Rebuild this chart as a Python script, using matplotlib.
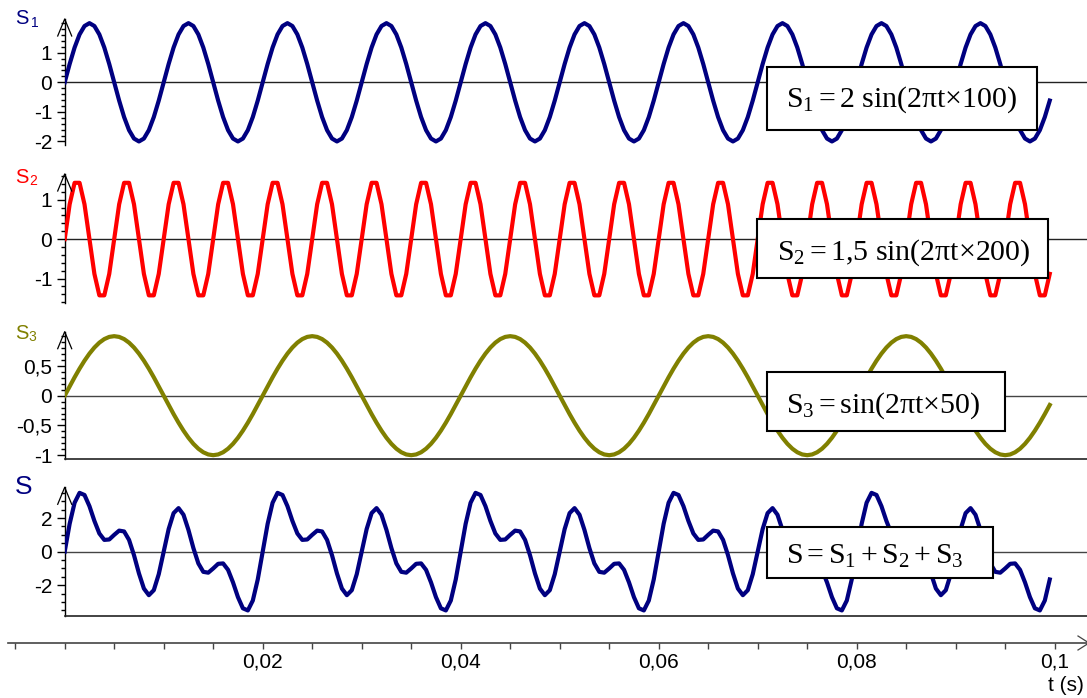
import numpy as np
import matplotlib
matplotlib.use("Agg")
import matplotlib.pyplot as plt
from matplotlib.lines import Line2D
from matplotlib.patches import Rectangle
from matplotlib.ticker import FixedLocator, MultipleLocator

plt.rcParams["font.family"] = ["Liberation Sans", "DejaVu Sans"]
plt.rcParams["mathtext.fontset"] = "custom"
plt.rcParams["mathtext.rm"] = "Liberation Serif"
plt.rcParams["mathtext.it"] = "Liberation Serif:italic"

# signal parameters, as written in the boxed formulas
amplitudes = [2.0, 1.5, 1.0]
frequencies = [100, 200, 50]
t_step = 0.0005
t_end = 0.0995

series_letter = ["S", "S", "S", "S"]
series_index = ["1", "2", "3", ""]
series_colors = ["#000080", "#ff0000", "#808000", "#000080"]
formulas = [
    r"$\mathrm{S_1 = 2\ sin(2πt×100)}$",
    r"$\mathrm{S_2 = 1{,}5\ sin(2πt×200)}$",
    r"$\mathrm{S_3 = sin(2πt×50)}$",
    r"$\mathrm{S = S_1 + S_2 + S_3}$",
]
y_limits = [(-2.12, 2.14), (-1.62, 1.65), (-1.064, 1.075), (-3.83, 3.83)]
y_major = [[-2, -1, 0, 1], [-1, 0, 1], [-1, -0.5, 0, 0.5], [-2, 0, 2]]
y_major_labels = [
    ["-2", "-1", "0", "1"],
    ["-1", "0", "1"],
    ["-1", "-0,5", "0", "0,5"],
    ["-2", "0", "2"],
]
y_minor_step = [0.2, 0.2, 0.1, 0.5]
x_major = [0.02, 0.04, 0.06, 0.08, 0.1]
x_major_labels = ["0,02", "0,04", "0,06", "0,08", "0,1"]
x_minor_step = 0.005

# layout, in pixels of the 1087x698 canvas
W, H = 1087, 698
X0 = 64.7          # pixel column of t = 0
PX_PER_S = 9900.0  # pixels per second on the time axis
panel_rows = [(19, 145), (174, 303), (331.7, 459), (487.3, 616)]
letter_pos = [(15, 24), (15, 183.3), (15, 339.3), (15, 494)]
index_pos = [(30.5, 26.7), (29, 185), (28.7, 340.7), (0, 0)]
letter_size = [14.5, 14.5, 14.5, 19]
boxes = [(767, 67, 1037, 130), (757, 219, 1048, 278), (767, 372, 1005, 431), (767, 527, 993, 578)]
formula_pos = [(785.7, 106.7), (776.7, 260), (785.7, 412.3), (785.7, 563.3)]
axis_y = 643


def fx(px):
    return px / W


def fy(py):
    return 1 - py / H


t = np.arange(0, t_end + t_step / 2, t_step)
parts = [a * np.sin(2 * np.pi * f * t) for a, f in zip(amplitudes, frequencies)]
signals = parts + [parts[0] + parts[1] + parts[2]]

fig = plt.figure(figsize=(W / 100, H / 100), dpi=100)
t_max = (W - X0) / PX_PER_S

for i, (top, bot) in enumerate(panel_rows):
    ax = fig.add_axes([fx(X0), fy(bot), (W - X0) / W, (bot - top) / H])
    ax.patch.set_visible(False)
    ax.plot(t, signals[i], color=series_colors[i], lw=3, solid_joinstyle="round", zorder=3)
    ax.axhline(0, color="#222222" if i < 2 else "#444444", lw=1, zorder=2)
    ax.set_xlim(0, t_max)
    ax.set_ylim(*y_limits[i])
    ax.set_xticks([])
    ax.yaxis.set_major_locator(FixedLocator(y_major[i]))
    ax.set_yticklabels(y_major_labels[i])
    ax.yaxis.set_minor_locator(MultipleLocator(y_minor_step[i]))
    ax.tick_params(axis="y", which="major", direction="out", length=6, width=1, labelsize=15, pad=3)
    ax.tick_params(axis="y", which="minor", direction="out", length=3, width=1)
    ax.spines["top"].set_visible(False)
    ax.spines["right"].set_visible(False)
    ax.spines["left"].set_linewidth(1)
    if i < 2:
        ax.spines["bottom"].set_visible(False)
    else:
        ax.spines["bottom"].set_linewidth(1.2)
        ax.spines["bottom"].set_color("#222222")

    # open arrow head on the y axis
    fig.add_artist(Line2D([fx(X0 - 7), fx(X0), fx(X0 + 7)], [fy(top + 17), fy(top), fy(top + 17)],
                          color="black", lw=0.9))

    lx, ly = letter_pos[i]
    fig.text(fx(lx), fy(ly), series_letter[i], color=series_colors[i],
             fontsize=letter_size[i], ha="left", va="baseline")
    if series_index[i]:
        sx, sy = index_pos[i]
        fig.text(fx(sx), fy(sy), series_index[i], color=series_colors[i],
                 fontsize=10, ha="left", va="baseline")

    x1, y1, x2, y2 = boxes[i]
    fig.add_artist(Rectangle((fx(x1), fy(y2)), (x2 - x1) / W, (y2 - y1) / H,
                             facecolor="white", edgecolor="black", lw=1.5, zorder=4))
    px, py = formula_pos[i]
    fig.text(fx(px), fy(py), formulas[i], fontsize=21.5, ha="left", va="baseline", zorder=5)

# shared time axis at the bottom
axb = fig.add_axes([fx(8), fy(axis_y), (W - 8) / W, 0.0001])
axb.patch.set_visible(False)
axb.set_xlim(-(X0 - 8) / PX_PER_S, t_max)
axb.set_yticks([])
for side in ["top", "right", "left"]:
    axb.spines[side].set_visible(False)
axb.spines["bottom"].set_color("#444444")
axb.spines["bottom"].set_linewidth(1.2)
axb.xaxis.set_major_locator(FixedLocator(x_major))
axb.set_xticklabels(x_major_labels)
axb.xaxis.set_minor_locator(MultipleLocator(x_minor_step))
axb.tick_params(axis="x", which="both", direction="out", length=4, width=1, color="#444444",
                labelsize=15, pad=3)
fig.add_artist(Line2D([fx(1078), fx(1089), fx(1078)], [fy(axis_y - 7), fy(axis_y), fy(axis_y + 7)],
                      color="#444444", lw=0.9))
fig.text(fx(1084), fy(691), "t (s)", fontsize=15, ha="right", va="baseline")

fig.savefig("out.png", dpi=100)
